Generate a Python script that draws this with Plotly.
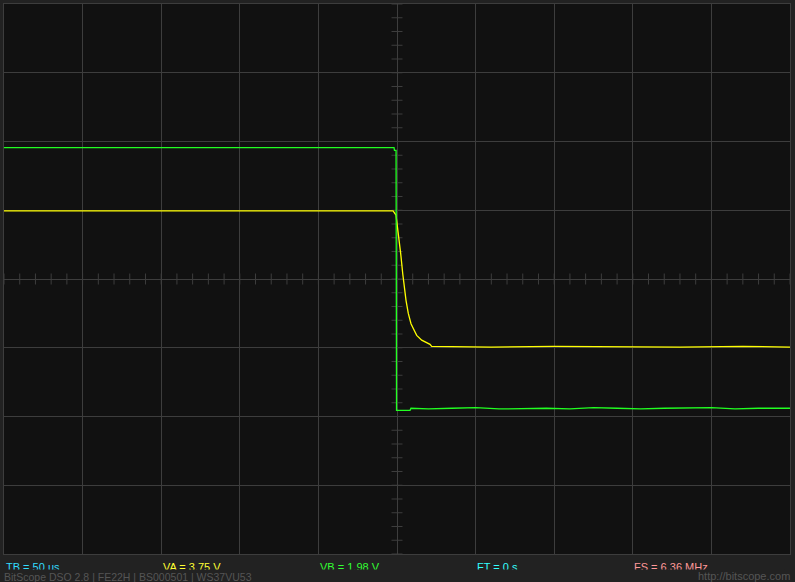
import plotly.graph_objects as go

# ---- data (time in microseconds, amplitude in screen divisions) ----
cha_time = [-250, -2.5, -0.64, 0.83, 2.35, 3.63, 4.45, 5.73, 7.19, 8.91, 10.37,
            12.53, 15.71, 18.89, 20.99, 22.07, 60, 100, 140, 180, 220, 250]
cha_level = [0.99, 0.99, 0.93, 0.67, 0.37, 0.08, -0.11, -0.31, -0.50, -0.65, -0.72,
             -0.82, -0.89, -0.93, -0.95, -0.98, -0.99, -0.98, -0.99, -0.99, -0.98, -0.99]

chb_time = [-250, -1.9, -1.6, -0.6, -0.3, 8.3, 8.9, 20, 35, 50, 65, 80, 95, 110,
            125, 140, 155, 170, 185, 200, 215, 230, 250]
chb_level = [1.91, 1.91, 1.87, 1.87, -1.91, -1.91, -1.88, -1.89, -1.88, -1.87, -1.89,
             -1.88, -1.88, -1.89, -1.87, -1.88, -1.89, -1.88, -1.88, -1.87, -1.89, -1.88, -1.88]

status_labels = ["TB = 50 us", "VA = 3.75 V", "VB = 1.98 V", "FT = 0 s", "FS = 6.36 MHz"]
status_colors = ["#33ddff", "#ffff33", "#33ff33", "#33ffff", "#ff9999"]
footer_left = "BitScope DSO 2.8 | FE22H | BS000501 | WS37VU53"
footer_right = "http://bitscope.com"

GRID = "#3d3d3d"
W, H = 795, 582
L, R, T, B = 4, 5, 4, 28
PW, PH = W - L - R, H - T - B

fig = go.Figure()
fig.add_trace(go.Scatter(x=cha_time, y=cha_level, mode="lines",
                         line=dict(color="#ffff00", width=1.3), hoverinfo="skip"))
fig.add_trace(go.Scatter(x=chb_time, y=chb_level, mode="lines",
                         line=dict(color="#22ff22", width=1.3), hoverinfo="skip"))

# center graticule ticks
shapes = []
hx = 3.5   # half tick length in us
hy = 0.08  # half tick length in div
for i in range(-25, 26):
    t = i * 10
    shapes.append(dict(type="line", xref="x", yref="y", x0=t, x1=t, y0=-hy, y1=hy,
                       line=dict(color=GRID, width=1), layer="below"))
for i in range(-20, 21):
    v = i * 0.2
    shapes.append(dict(type="line", xref="x", yref="y", x0=-hx, x1=hx, y0=v, y1=v,
                       line=dict(color=GRID, width=1), layer="below"))

def px(xp):
    return (xp - L) / PW

def py(yp):
    return (H - B - yp) / PH

annotations = []
xs = [4, 161, 318, 475, 632]
for lab, col, x0 in zip(status_labels, status_colors, xs):
    annotations.append(dict(text=lab, x=px(x0), y=py(558.5), xref="paper", yref="paper",
                            xanchor="left", yanchor="top", showarrow=False,
                            font=dict(family="Liberation Sans, Arial", size=11, color=col)))
annotations.append(dict(text=footer_left, x=px(3), y=py(568.5), xref="paper", yref="paper",
                        xanchor="left", yanchor="top", showarrow=False, align="left",
                        width=780, height=13, bgcolor="#222222", borderpad=0,
                        font=dict(family="Liberation Sans, Arial", size=10.5, color="#555555")))
annotations.append(dict(text=footer_right, x=px(792), y=py(568), xref="paper", yref="paper",
                        xanchor="right", yanchor="top", showarrow=False,
                        font=dict(family="Liberation Sans, Arial", size=11, color="#555555")))

fig.update_layout(
    width=W, height=H,
    margin=dict(l=L, r=R, t=T, b=B, pad=0),
    paper_bgcolor="#222222", plot_bgcolor="#111111",
    showlegend=False,
    shapes=shapes, annotations=annotations,
    xaxis=dict(range=[-250, 250], dtick=50, tick0=0, showgrid=True, gridcolor=GRID,
               gridwidth=1, zeroline=True, zerolinecolor=GRID, zerolinewidth=1,
               showticklabels=False, ticks="", showline=True, linecolor=GRID,
               linewidth=1, mirror=True, fixedrange=True),
    yaxis=dict(range=[-4, 4], dtick=1, tick0=0, showgrid=True, gridcolor=GRID,
               gridwidth=1, zeroline=True, zerolinecolor=GRID, zerolinewidth=1,
               showticklabels=False, ticks="", showline=True, linecolor=GRID,
               linewidth=1, mirror=True, fixedrange=True),
)

fig.write_html("out.html", config={"displayModeBar": False},
               post_script="document.body.style.margin='0';document.body.style.overflow='hidden';document.body.style.background='#222222';")
